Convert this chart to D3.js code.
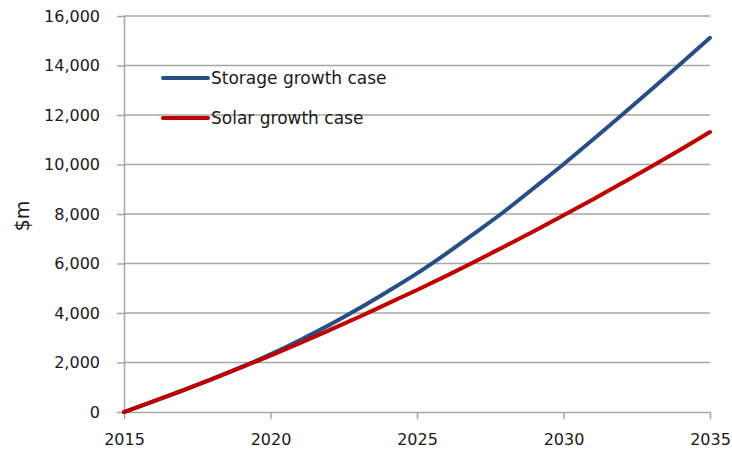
<!DOCTYPE html>
<html>
<head>
<meta charset="utf-8">
<script src="https://cdn.jsdelivr.net/npm/d3@7"></script>
<style>
  html, body { margin: 0; padding: 0; background: #fff; }
  text { font-family: "DejaVu Sans", Verdana, sans-serif; fill: #1a1a1a; }
</style>
</head>
<body>
<div id="chart"></div>
<script>
const years = [2015, 2016, 2017, 2018, 2019, 2020, 2021, 2022, 2023, 2024, 2025,
               2026, 2027, 2028, 2029, 2030, 2031, 2032, 2033, 2034, 2035]
const storageCase = [0, 425, 865, 1325, 1810, 2330, 2900, 3510, 4170, 4870, 5600,
                     6400, 7250, 8120, 9060, 10010, 11000, 12010, 13030, 14070, 15120]
const solarCase = [0, 430, 870, 1330, 1800, 2280, 2780, 3300, 3830, 4380, 4930,
                   5500, 6090, 6700, 7310, 7950, 8590, 9250, 9920, 10610, 11310]
const seriesNames = ['Storage growth case', 'Solar growth case']
const xTicks = [2015, 2020, 2025, 2030, 2035]
const yTicks = [0, 2000, 4000, 6000, 8000, 10000, 12000, 14000, 16000]
const yTitle = '$m'

const width = 732
const height = 452
const colors = ['#264f86', '#c00000']
const gridColor = '#a6a6a6'

const x = d3.scaleLinear().domain([2015, 2035]).range([124, 710])
const y = d3.scaleLinear().domain([0, 16000]).range([412, 16])

const svg = d3.select('#chart').append('svg')
  .attr('width', width)
  .attr('height', height)

// horizontal gridlines
svg.append('g')
  .selectAll('line')
  .data(yTicks.slice(1)).enter()
  .append('line')
    .attr('x1', x(2015))
    .attr('x2', x(2035))
    .attr('y1', d => y(d))
    .attr('y2', d => y(d))
    .attr('stroke', gridColor)
    .attr('stroke-width', 1.5)

const yAxis = d3.axisLeft(y).tickValues(yTicks).tickFormat(d3.format(',')).tickSizeInner(7).tickSizeOuter(0).tickPadding(17)
svg.append('g')
    .attr('transform', `translate(${x(2015)},0)`)
    .call(yAxis)
    .call(g => g.selectAll('line, path').attr('stroke', gridColor).attr('stroke-width', 1.5))
    .call(g => g.selectAll('text').attr('font-size', 16).attr('fill', '#1a1a1a').attr('font-family', '"DejaVu Sans", sans-serif'))

const xAxis = d3.axisBottom(x).tickValues(xTicks).tickFormat(d3.format('d')).tickSizeInner(7).tickSizeOuter(0).tickPadding(15)
svg.append('g')
    .attr('transform', `translate(0,${y(0)})`)
    .call(xAxis)
    .call(g => g.selectAll('line, path').attr('stroke', gridColor).attr('stroke-width', 1.5))
    .call(g => g.selectAll('text').attr('font-size', 16).attr('fill', '#1a1a1a').attr('font-family', '"DejaVu Sans", sans-serif'))

svg.append('text')
    .text(yTitle)
    .attr('text-anchor', 'middle')
    .attr('font-size', 19)
    .attr('transform', `translate(29, ${y(8000) + 2})rotate(-90)`)

const line = d3.line()
  .x((d, i) => x(years[i]))
  .y(d => y(d))
  .curve(d3.curveMonotoneX)

const series = [storageCase, solarCase]
svg.append('g')
  .selectAll('path')
  .data(series).enter()
  .append('path')
    .attr('d', d => line(d))
    .attr('fill', 'none')
    .attr('stroke', (d, i) => colors[i])
    .attr('stroke-width', 4)
    .attr('stroke-linecap', 'round')

// legend
const legend = svg.append('g').attr('transform', 'translate(163, 78)')
const items = legend.selectAll('g')
  .data(seriesNames).enter()
  .append('g')
    .attr('transform', (d, i) => `translate(0, ${i * 40})`)
items.append('line')
    .attr('x1', 0).attr('x2', 45)
    .attr('stroke', (d, i) => colors[i])
    .attr('stroke-width', 4)
    .attr('stroke-linecap', 'round')
items.append('text')
    .text(d => d)
    .attr('x', 48)
    .attr('dy', '0.35em')
    .attr('font-size', 17)
</script>
</body>
</html>
